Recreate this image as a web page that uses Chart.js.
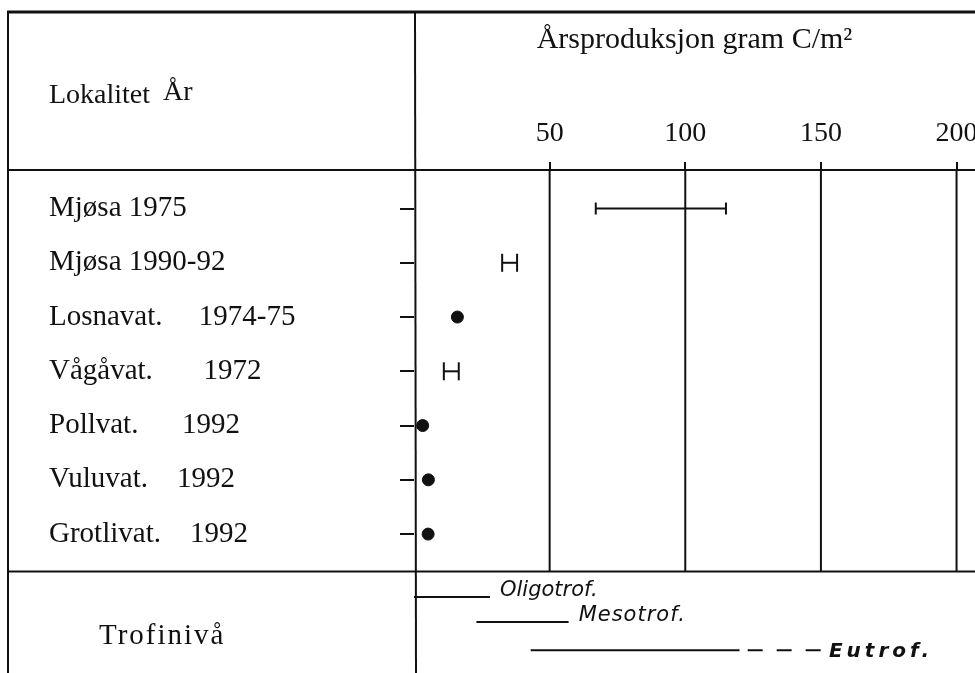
<!DOCTYPE html>
<html>
<head>
<meta charset="utf-8">
<script src="https://cdn.jsdelivr.net/npm/chart.js@4"></script>
<style>
    html, body { margin: 0; padding: 0; background: #fff; }
    #wrap { width: 975px; height: 673px; position: relative; }
</style>
</head>
<body>
<div id="wrap"><canvas id="prodChart"></canvas></div>
<script>
// Rows: locality and year
const lakes = ['Mjøsa 1975', 'Mjøsa 1990-92', 'Losnavat.     1974-75', 'Vågåvat.       1972',
               'Pollvat.      1992', 'Vuluvat.    1992', 'Grotlivat.    1992'];
// Annual production, g C/m2 (range where given, single value otherwise)
const rangeLow    = [67, 32.5, null, 11, null, null, null];
const rangeHigh   = [115, 38, null, 16.5, null, null, null];
const singleValue = [null, null, 16, null, 3.2, 5.3, 5.2];
const xTicks = [50, 100, 150, 200];

// Trophic levels, g C/m2
const trofiNames    = ['Oligotrof.', 'Mesotrof.', 'Eutrof.'];
const trofiFrom     = [0, 23, 43];
const trofiTo       = [28, 57, 120];
const trofiDashedTo = [null, null, 150];

// layout constants (in row units of the y scale)
const TROFI_ROW = [7.16, 7.62, 8.14];
const SEPARATOR_ROW = 6.69;
const INK = '#111';
const SERIF = '"Liberation Serif", "Times New Roman", serif';

const datasets = [];

// ranges with end caps
lakes.forEach(function(lake, i) {
    if (rangeLow[i] === null) return;
    const wide = rangeHigh[i] - rangeLow[i] > 20;
    datasets.push({
        label: lake,
        data: [{ x: rangeLow[i], y: i }, { x: rangeHigh[i], y: i }],
        showLine: true,
        borderColor: INK,
        borderWidth: 2,
        pointStyle: 'line',
        pointRotation: 90,
        pointRadius: wide ? 6 : 9,
        pointBorderWidth: 2,
        pointBorderColor: INK
    });
});

// single values
datasets.push({
    label: 'Enkeltverdi',
    data: singleValue.map(function(v, i) { return v === null ? null : { x: v, y: i }; }).filter(Boolean),
    showLine: false,
    pointRadius: 6,
    pointBackgroundColor: INK,
    pointBorderColor: INK
});

// trophic level bars
trofiNames.forEach(function(name, i) {
    datasets.push({
        label: name,
        data: [{ x: trofiFrom[i], y: TROFI_ROW[i] }, { x: trofiTo[i], y: TROFI_ROW[i] }],
        showLine: true,
        borderColor: INK,
        borderWidth: 2,
        pointRadius: 0
    });
    if (trofiDashedTo[i] !== null) {
        datasets.push({
            label: name + ' (usikker)',
            data: [{ x: trofiTo[i] + 3, y: TROFI_ROW[i] }, { x: trofiDashedTo[i], y: TROFI_ROW[i] }],
            showLine: true,
            borderColor: INK,
            borderWidth: 2,
            borderDash: [15, 14],
            pointRadius: 0
        });
    }
});

// table frame, header texts, grid and trophic labels
const tableFrame = {
    id: 'tableFrame',
    beforeDraw: function(chart) {
        const ctx = chart.ctx;
        ctx.save();
        ctx.fillStyle = '#fff';
        ctx.fillRect(0, 0, chart.width, chart.height);
        ctx.restore();
    },
    afterDraw: function(chart) {
        const ctx = chart.ctx;
        const area = chart.chartArea;
        const xs = chart.scales.x;
        const ys = chart.scales.y;
        const sepY = ys.getPixelForValue(SEPARATOR_ROW);

        function rule(x1, y1, x2, y2, w) {
            ctx.beginPath();
            ctx.lineWidth = w;
            ctx.moveTo(x1, y1);
            ctx.lineTo(x2, y2);
            ctx.stroke();
        }

        ctx.save();
        ctx.strokeStyle = INK;
        rule(7, 12, chart.width, 12, 3);
        rule(8, 11, 8, chart.height, 2);
        rule(area.left + 1, 11, area.left + 2, chart.height, 2);
        rule(8, area.top, chart.width, area.top, 2);
        rule(8, sepY, chart.width, sepY, 2);

        xTicks.forEach(function(v) {
            const px = xs.getPixelForValue(v);
            rule(px, area.top, px, sepY, 2);
        });

        ctx.fillStyle = INK;
        ctx.textBaseline = 'middle';
        ctx.textAlign = 'left';
        ctx.font = '28px ' + SERIF;
        ctx.fillText('Lokalitet', 49, 96);
        ctx.fillText('År', 163, 93);
        ctx.font = '29px ' + SERIF;
        ctx.letterSpacing = '2px';
        ctx.fillText('Trofinivå', 99, 636);

        trofiNames.forEach(function(name, i) {
            const end = trofiDashedTo[i] !== null ? trofiDashedTo[i] : trofiTo[i];
            const px = xs.getPixelForValue(end) + 8;
            const py = ys.getPixelForValue(TROFI_ROW[i]);
            if (i === 2) {
                ctx.font = 'bold italic 20px "DejaVu Sans", sans-serif';
                ctx.letterSpacing = '4px';
                ctx.fillText(name, px, py + 2);
            } else {
                ctx.font = 'italic 21px "DejaVu Sans", sans-serif';
                ctx.letterSpacing = i === 0 ? '0px' : '1px';
                ctx.fillText(name, px + 2, py - 6);
            }
        });
        ctx.restore();
    }
};

const ctx = document.getElementById('prodChart');
new Chart(ctx.getContext('2d'), {
    type: 'scatter',
    data: { datasets: datasets },
    options: {
        responsive: true,
        maintainAspectRatio: false,
        animation: false,
        layout: { autoPadding: false, padding: { left: 49, top: 0, right: 0, bottom: 0 } },
        plugins: {
            legend: { display: false },
            tooltip: { enabled: false }
        },
        elements: { line: { tension: 0 } },
        scales: {
            x: {
                type: 'linear',
                position: 'top',
                min: 0,
                max: 206.8,
                afterBuildTicks: function(scale) {
                    scale.ticks = xTicks.map(function(v) { return { value: v }; });
                },
                afterFit: function(scale) {
                    scale.height = 170;
                    scale.paddingLeft = 0;
                    scale.paddingRight = 0;
                },
                ticks: {
                    color: INK,
                    padding: 14,
                    maxRotation: 0,
                    font: { family: SERIF, size: 28, lineHeight: 1 }
                },
                grid: {
                    drawOnChartArea: false,
                    drawTicks: true,
                    tickLength: 8,
                    color: INK,
                    lineWidth: 2
                },
                border: { display: false },
                title: {
                    display: true,
                    text: 'Årsproduksjon gram C/m²',
                    color: INK,
                    font: { family: SERIF, size: 30 },
                    padding: { top: 22, bottom: 0 }
                }
            },
            y: {
                type: 'linear',
                reverse: true,
                min: -0.71,
                max: 8.56,
                afterBuildTicks: function(scale) {
                    scale.ticks = lakes.map(function(l, i) { return { value: i }; });
                },
                afterFit: function(scale) {
                    scale.width = 414 - 49;
                    scale.paddingTop = 0;
                    scale.paddingBottom = 0;
                },
                ticks: {
                    color: INK,
                    crossAlign: 'far',
                    font: { family: SERIF, size: 29 },
                    callback: function(value) { return lakes[value]; }
                },
                grid: {
                    drawOnChartArea: false,
                    drawTicks: true,
                    tickLength: 14,
                    color: INK,
                    lineWidth: 2
                },
                border: { display: false }
            }
        }
    },
    plugins: [tableFrame]
});
</script>
</body>
</html>
